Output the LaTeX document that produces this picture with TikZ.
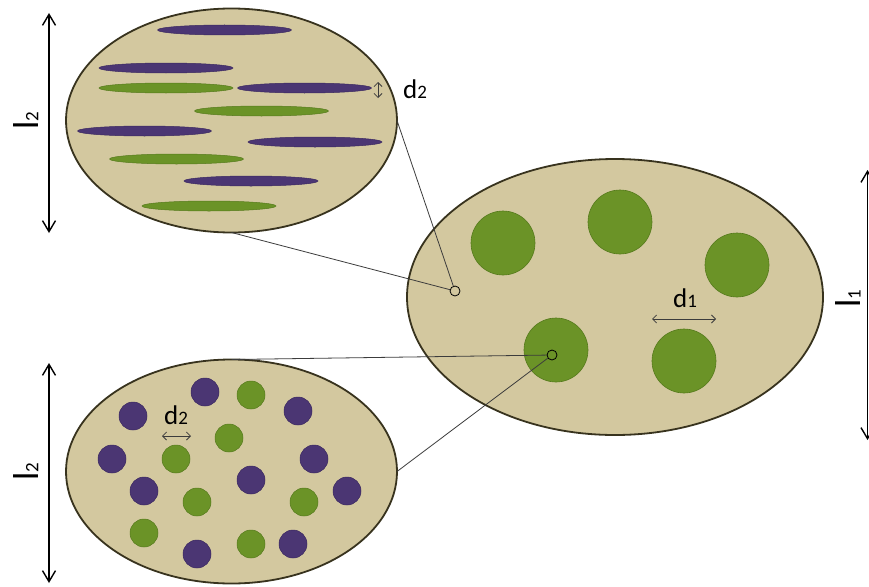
\documentclass[tikz,border=0pt]{standalone}
\usepackage{fontspec}
\setmainfont{Carlito}
\usetikzlibrary{shapes.geometric,arrows.meta}

\definecolor{tan}{HTML}{D3C89F}
\definecolor{rim}{HTML}{38331E}
\definecolor{leaf}{HTML}{6B9327}
\definecolor{leafrim}{HTML}{557A1C}
\definecolor{plum}{HTML}{4B3673}
\definecolor{plumrim}{HTML}{3A2860}
\definecolor{wire}{HTML}{3C3C3C}

\tikzset{
  grain/.style={ellipse, fill=tan, draw=rim, line width=1.8pt, inner sep=0pt, outer sep=0pt},
  bigdot/.style={circle, fill=leaf, draw=leafrim, line width=0.6pt, minimum size=64pt, inner sep=0pt},
  gdot/.style={circle, fill=leaf, draw=leafrim, line width=0.5pt, minimum size=28pt, inner sep=0pt},
  pdot/.style={circle, fill=plum, draw=plumrim, line width=0.5pt, minimum size=28pt, inner sep=0pt},
  gbar/.style={ellipse, fill=leaf, draw=leafrim, line width=0.5pt, minimum width=134pt, minimum height=10pt, inner sep=0pt},
  pbar/.style={ellipse, fill=plum, draw=plumrim, line width=0.5pt, minimum width=134pt, minimum height=10pt, inner sep=0pt},
  probe/.style={circle, draw=black, line width=0.8pt, minimum size=10pt, inner sep=0pt},
  wirestyle/.style={draw=wire, line width=0.8pt},
  sizearrow/.style={line width=1.4pt, {Straight Barb[length=11pt,width=13pt]}-{Straight Barb[length=11pt,width=13pt]}},
  smallarrow/.style={draw=wire, line width=0.8pt, {Straight Barb[length=4pt,width=8pt]}-{Straight Barb[length=4pt,width=8pt]}},
  biglabel/.style={inner sep=0pt, font=\fontsize{36}{36}\selectfont},
  dlabel/.style={inner sep=0pt, font=\fontsize{27}{27}\selectfont},
}
\newcommand{\sub}[1]{{\fontsize{19}{19}\selectfont #1}}

\begin{document}
\begin{tikzpicture}[x=1pt,y=-1pt]
\useasboundingbox (0,0) rectangle (869,586);
\fill[white] (0,0) rectangle (869,586);

% grains
\node[grain, minimum width=416pt, minimum height=276pt] (big) at (615,297) {};
\node[grain, minimum width=331pt, minimum height=224pt] (top) at (231.5,120.5) {};
\node[grain, minimum width=331pt, minimum height=224pt] (bot) at (231.5,471.5) {};

% large inclusions
\node[bigdot] (c1) at (503,243) {};
\node[bigdot] (c2) at (620,222) {};
\node[bigdot] (c3) at (737,265) {};
\node[bigdot] (c4) at (556,350) {};
\node[bigdot] (c5) at (684,361) {};

% lamellae
\node[pbar] (s1) at (224.5,30) {};
\node[pbar] (s2) at (166,68) {};
\node[gbar] (s3) at (166,88) {};
\node[pbar] (s4) at (304.5,88) {};
\node[gbar] (s5) at (261.5,111) {};
\node[pbar] (s6) at (144.5,131) {};
\node[pbar] (s7) at (315,142) {};
\node[gbar] (s8) at (176.5,159) {};
\node[pbar] (s9) at (251,181) {};
\node[gbar] (s10) at (209,206) {};

% dispersed particles
\node[pdot] (q1) at (205,392) {};
\node[pdot] (q2) at (133,416) {};
\node[pdot] (q3) at (298,411) {};
\node[pdot] (q4) at (112,459) {};
\node[pdot] (q5) at (314,459) {};
\node[pdot] (q6) at (144,491) {};
\node[pdot] (q7) at (251,480) {};
\node[pdot] (q8) at (347,491) {};
\node[pdot] (q9) at (197,554) {};
\node[pdot] (q10) at (293,544) {};
\node[gdot] (g1) at (251,395) {};
\node[gdot] (g2) at (229,438) {};
\node[gdot] (g3) at (176,459) {};
\node[gdot] (g4) at (197,502) {};
\node[gdot] (g5) at (304,502) {};
\node[gdot] (g6) at (144,533) {};
\node[gdot] (g7) at (251,544) {};

% probe points and zoom lines
\node[probe] (p1) at (455,291) {};
\node[probe] (p2) at (552,355) {};
\draw[wirestyle] (top.south) -- (p1);
\draw[wirestyle] (top.east) -- (p1);
\draw[wirestyle] (bot.north) -- (p2);
\draw[wirestyle] (bot.east) -- (p2);

% size arrows
\coordinate (a1) at (49,13);  \coordinate (a2) at (49,233);
\coordinate (b1) at (49,363); \coordinate (b2) at (49,583);
\coordinate (r1) at (867.5,170); \coordinate (r2) at (867.5,440);
\draw[sizearrow] (a1) -- (a2);
\draw[sizearrow] (b1) -- (b2);
\draw[sizearrow] (r1) -- (r2);
\node[biglabel, rotate=90] (l2a) at (26,121) {l\sub{2}};
\node[biglabel, rotate=90] (l2b) at (26,472) {l\sub{2}};
\node[biglabel, rotate=90] (l1) at (848,299) {l\sub{1}};

% spacing arrows
\coordinate (e1) at (652,319); \coordinate (e2) at (716,319);
\draw[smallarrow] (e1) -- (e2);
\node[dlabel] (d1) at (685,298) {d\sub{1}};
\coordinate (f1) at (378,82); \coordinate (f2) at (378,98);
\draw[smallarrow] (f1) -- (f2);
\node[dlabel] (d2a) at (415,89) {d\sub{2}};
\coordinate (h1) at (162,436); \coordinate (h2) at (191,436);
\draw[smallarrow] (h1) -- (h2);
\node[dlabel] (d2b) at (176,415) {d\sub{2}};
\end{tikzpicture}
\end{document}
